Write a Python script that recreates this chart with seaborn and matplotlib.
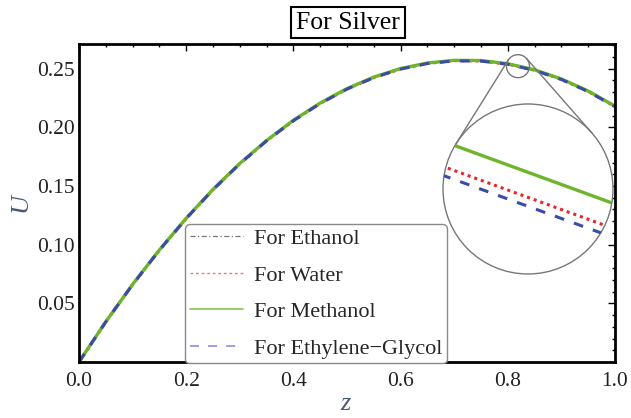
import numpy as np
import matplotlib
matplotlib.use("Agg")
import matplotlib.pyplot as plt
import seaborn as sns
from matplotlib.patches import Circle
from matplotlib.lines import Line2D
from matplotlib.transforms import IdentityTransform

# Velocity profile U(z) for silver nanoparticles in four base fluids
z = [0.00, 0.05, 0.10, 0.15, 0.20, 0.25, 0.30, 0.35, 0.40, 0.45, 0.50,
     0.55, 0.60, 0.65, 0.70, 0.75, 0.80, 0.85, 0.90, 0.95, 1.00]
ethanol = [0.0, 0.0343, 0.0661, 0.0955, 0.1225, 0.1471, 0.1692, 0.1888,
           0.2060, 0.2207, 0.2330, 0.2428, 0.2501, 0.2548, 0.2571, 0.2569,
           0.2542, 0.2490, 0.2412, 0.2309, 0.2180]
water = [0.0, 0.03425, 0.06601, 0.09537, 0.12234, 0.14690, 0.16897, 0.18855,
         0.20572, 0.22040, 0.23269, 0.24247, 0.24977, 0.25446, 0.25676,
         0.25656, 0.25386, 0.24867, 0.24088, 0.23059, 0.21771]
methanol = [0.0, 0.0343, 0.0661, 0.0955, 0.1225, 0.1471, 0.1692, 0.1888,
            0.2060, 0.2207, 0.2330, 0.2428, 0.2501, 0.2548, 0.2571, 0.2569,
            0.2542, 0.2490, 0.2412, 0.2309, 0.2180]
glycol = [0.0, 0.03424, 0.06598, 0.09533, 0.12228, 0.14684, 0.16890, 0.18846,
          0.20563, 0.22030, 0.23258, 0.24236, 0.24965, 0.25434, 0.25664,
          0.25644, 0.25374, 0.24855, 0.24077, 0.23048, 0.21761]

series_labels = ["For Ethanol", "For Water", "For Methanol",
                 "For Ethylene\u2212Glycol"]
x_ticks = [0.0, 0.2, 0.4, 0.6, 0.8, 1.0]
x_tick_labels = ["0.0", "0.2", "0.4", "0.6", "0.8", "1.0"]
y_ticks = [0.05, 0.10, 0.15, 0.20, 0.25]
y_tick_labels = ["0.05", "0.10", "0.15", "0.20", "0.25"]

sns.set_theme(style="white")
plt.rcParams["font.family"] = ["Liberation Serif", "DejaVu Serif"]

W, H = 631, 418
fig = plt.figure(figsize=(W / 100, H / 100), dpi=100)
ax = fig.add_axes([79 / W, 1 - 362 / H, 536 / W, 318 / H])

styles = [
    dict(color="#3a3a3a", lw=1.0, linestyle=(0, (6, 2, 1, 2))),
    dict(color="#e8262a", lw=2.2, linestyle=(0, (1, 1.3))),
    dict(color="#6cb52d", lw=2.4, linestyle="-"),
    dict(color="#3b4ba6", lw=2.2, linestyle=(0, (3.2, 3.4))),
]
data = [ethanol, water, methanol, glycol]

for vals, st in zip(data, styles):
    sns.lineplot(x=z, y=vals, ax=ax, legend=False, **st)

ax.set_xlim(0, 1)
ax.set_ylim(0, 0.271)
ax.set_xticks(x_ticks)
ax.set_xticklabels(x_tick_labels)
ax.set_xticks(np.arange(0, 1.0001, 0.05), minor=True)
ax.set_yticks(y_ticks)
ax.set_yticklabels(y_tick_labels)
ax.set_yticks(np.arange(0, 0.2701, 0.01), minor=True)
ax.tick_params(which="both", direction="in", top=True, right=True,
               color="black", width=1.0)
ax.tick_params(which="major", length=5, labelsize=15.5, labelcolor="#222222")
ax.tick_params(which="minor", length=2.5)
ax.tick_params(axis="x", which="major", pad=7)
ax.tick_params(axis="y", which="major", pad=3)
for s in ax.spines.values():
    s.set_linewidth(2.0)
    s.set_color("black")

label_color = "#4a5878"
ax.set_xlabel("z", fontstyle="italic", fontsize=19, color=label_color)
ax.set_ylabel("U", fontstyle="italic", fontsize=19, color=label_color)
ax.xaxis.label.set_va("center")
ax.yaxis.label.set_va("center")
ax.xaxis.set_label_coords((345 - 79) / 536, -(404 - 362) / 318)
ax.yaxis.set_label_coords((21 - 79) / 536, (362 - 202) / 318)

# legend with lighter swatches
handles = [
    Line2D([], [], color="#777777", lw=0.9, linestyle=(0, (4, 2, 1, 2))),
    Line2D([], [], color="#f07a7a", lw=1.0, linestyle=(0, (2, 2))),
    Line2D([], [], color="#8cc860", lw=1.3, linestyle="-"),
    Line2D([], [], color="#9a96d8", lw=1.3, linestyle=(0, (5, 5))),
]
leg = ax.legend(handles, series_labels, loc="lower left",
                bbox_to_anchor=(0.198, -0.004), fontsize=16, frameon=True,
                fancybox=True, edgecolor="#8a8a8a", framealpha=1,
                labelspacing=0.72, handlelength=2.4, handletextpad=0.5,
                borderpad=0.2, borderaxespad=0)
leg.get_frame().set_linewidth(1.0)

# title in a box
fig.text(348 / W, 1 - 22.6 / H, "For Silver", ha="center", va="center",
         fontsize=18.5, color="black",
         bbox=dict(boxstyle="square,pad=0.18", fc="white", ec="black", lw=1.5))

# magnifier: small circle on the curve and enlarged circular inset
fig.canvas.draw()
small_c = ax.transData.transform((0.819, 0.2521))
r1 = 11.5
cx, cy, R = 528, 189, 85
big_c = np.array([cx, H - cy], dtype=float)

ring = dict(fill=False, ec="#777777", lw=1.0, transform=IdentityTransform())
fig.add_artist(Circle(small_c, r1, **ring))

d = big_c - small_c
L = np.hypot(*d)
theta = np.arctan2(d[1], d[0])
alpha = np.arccos((r1 - R) / L)
for sgn in (1, -1):
    ang = theta + sgn * alpha
    u = np.array([np.cos(ang), np.sin(ang)])
    p1 = small_c + r1 * u
    p2 = big_c + R * u
    fig.add_artist(Line2D([p1[0], p2[0]], [p1[1], p2[1]], color="#777777",
                          lw=1.0, transform=IdentityTransform()))

axin = fig.add_axes([(cx - R) / W, 1 - (cy + R) / H, 2 * R / W, 2 * R / H])
axin.set_axis_off()
disk = Circle((0.5, 0.5), 0.5, transform=axin.transAxes, fc="white",
              ec="#777777", lw=1.0, zorder=0, clip_on=False)
axin.add_patch(disk)
for vals, st in zip(data, styles):
    sns.lineplot(x=z, y=vals, ax=axin, legend=False, **st)
for ln in axin.get_lines():
    ln.set_clip_path(disk)
axin.set_xlim(0.814, 0.822)
axin.set_ylim(0.250964, 0.253244)

fig.savefig("out.png", dpi=100)
